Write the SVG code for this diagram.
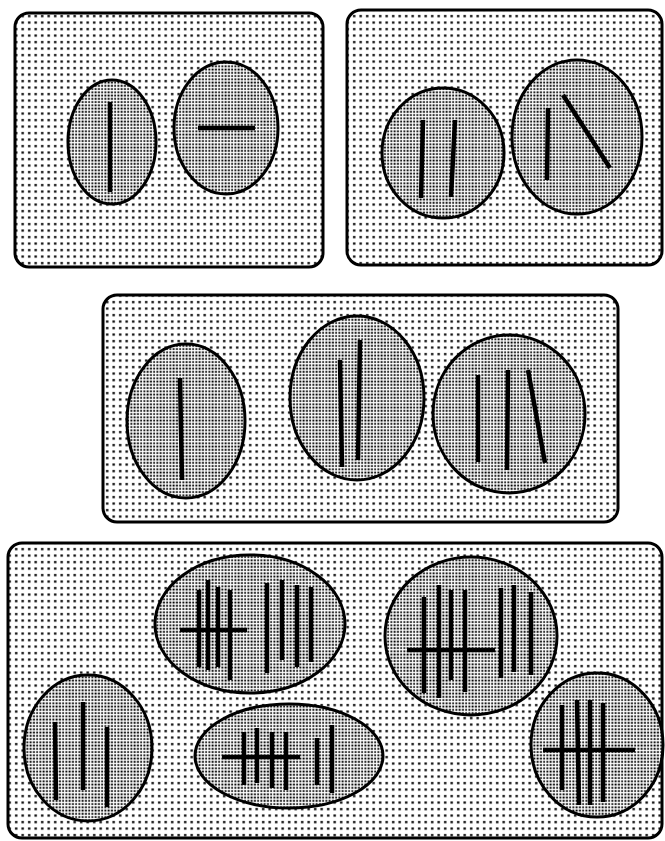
<svg xmlns="http://www.w3.org/2000/svg" width="665" height="841" viewBox="0 0 665 841">
<defs>
<pattern id="pDots" width="6.5" height="6.5" patternUnits="userSpaceOnUse">
<rect width="6.5" height="6.5" fill="#fff"/>
<rect x="2" y="2" width="2.4" height="2.2" fill="#000"/>
</pattern>
<pattern id="eDots" width="3.25" height="3.25" patternUnits="userSpaceOnUse">
<rect width="3.25" height="3.25" fill="#fff"/>
<rect x="0.4" y="0.4" width="1.9" height="1.8" fill="#000"/>
</pattern>
</defs>
<style>
.panel{fill:url(#pDots);stroke:#000;stroke-width:3}
.cell{fill:url(#eDots);stroke:#000;stroke-width:3}
.bar{stroke:#000;stroke-width:4.5;stroke-linecap:butt;fill:none}
</style>
<g id="panel1">
<rect class="panel" x="15" y="13" width="308" height="254" rx="14"/>
<g id="p1-cell1"><ellipse class="cell" cx="112" cy="142" rx="44" ry="62"/><line class="bar" x1="110" y1="102" x2="110" y2="192"/></g>
<g id="p1-cell2"><ellipse class="cell" cx="226" cy="128" rx="52" ry="66"/><line class="bar" x1="198" y1="128" x2="255" y2="128"/></g>
</g>
<g id="panel2">
<rect class="panel" x="347" y="10" width="315" height="255" rx="14"/>
<g id="p2-cell1"><ellipse class="cell" cx="443" cy="153" rx="61" ry="65"/><line class="bar" x1="423" y1="120" x2="421" y2="198"/><line class="bar" x1="455" y1="120" x2="451" y2="197"/></g>
<g id="p2-cell2"><ellipse class="cell" cx="577" cy="137" rx="65" ry="77"/><line class="bar" x1="548" y1="108" x2="547" y2="180"/><line class="bar" x1="563" y1="95" x2="610" y2="168"/></g>
</g>
<g id="panel3">
<rect class="panel" x="103" y="295" width="515" height="227" rx="14"/>
<g id="p3-cell1"><ellipse class="cell" cx="186" cy="421" rx="59" ry="77"/><line class="bar" x1="180" y1="378" x2="182" y2="480"/></g>
<g id="p3-cell2"><ellipse class="cell" cx="357" cy="398" rx="67" ry="82"/><line class="bar" x1="340" y1="360" x2="342" y2="467"/><line class="bar" x1="360" y1="340" x2="358" y2="460"/></g>
<g id="p3-cell3"><ellipse class="cell" cx="509" cy="414" rx="76" ry="79"/><line class="bar" x1="478" y1="375" x2="478" y2="462"/><line class="bar" x1="508" y1="370" x2="507" y2="470"/><line class="bar" x1="528" y1="370" x2="545" y2="463"/></g>
</g>
<g id="panel4">
<rect class="panel" x="8" y="543" width="654" height="295" rx="14"/>
<g id="p4-cell1"><ellipse class="cell" cx="250" cy="624" rx="95" ry="69"/>
<line class="bar" x1="199" y1="590" x2="199" y2="667"/><line class="bar" x1="208" y1="580" x2="208" y2="670"/><line class="bar" x1="218" y1="587" x2="218" y2="667"/><line class="bar" x1="230" y1="590" x2="230" y2="680"/><line class="bar" x1="180" y1="630" x2="247" y2="630"/>
<line class="bar" x1="267" y1="583" x2="267" y2="673"/><line class="bar" x1="282" y1="580" x2="282" y2="660"/><line class="bar" x1="297" y1="585" x2="297" y2="667"/><line class="bar" x1="311" y1="587" x2="311" y2="662"/></g>
<g id="p4-cell2"><ellipse class="cell" cx="471" cy="636" rx="86" ry="79"/>
<line class="bar" x1="424" y1="597" x2="424" y2="693"/><line class="bar" x1="439" y1="585" x2="439" y2="698"/><line class="bar" x1="451" y1="590" x2="451" y2="680"/><line class="bar" x1="465" y1="590" x2="465" y2="692"/><line class="bar" x1="407" y1="650" x2="495" y2="650"/>
<line class="bar" x1="501" y1="588" x2="501" y2="678"/><line class="bar" x1="514" y1="585" x2="514" y2="672"/><line class="bar" x1="531" y1="592" x2="531" y2="675"/></g>
<g id="p4-cell3"><ellipse class="cell" cx="88" cy="748" rx="64" ry="73"/>
<line class="bar" x1="55" y1="722" x2="56" y2="800"/><line class="bar" x1="83" y1="702" x2="83" y2="790"/><line class="bar" x1="107" y1="727" x2="107" y2="807"/></g>
<g id="p4-cell4"><ellipse class="cell" cx="289" cy="756" rx="94" ry="52"/>
<line class="bar" x1="244" y1="732" x2="244" y2="785"/><line class="bar" x1="257" y1="728" x2="257" y2="783"/><line class="bar" x1="272" y1="732" x2="272" y2="788"/><line class="bar" x1="286" y1="732" x2="286" y2="790"/><line class="bar" x1="222" y1="757" x2="300" y2="757"/>
<line class="bar" x1="317" y1="738" x2="317" y2="785"/><line class="bar" x1="332" y1="725" x2="332" y2="793"/></g>
<g id="p4-cell5"><ellipse class="cell" cx="597" cy="745" rx="66" ry="72"/>
<line class="bar" x1="562" y1="705" x2="562" y2="790"/><line class="bar" x1="577" y1="700" x2="579" y2="805"/><line class="bar" x1="590" y1="700" x2="590" y2="805"/><line class="bar" x1="603" y1="703" x2="603" y2="802"/><line class="bar" x1="543" y1="750" x2="635" y2="750"/></g>
</g>
<g id="connectors"/>
</svg>
